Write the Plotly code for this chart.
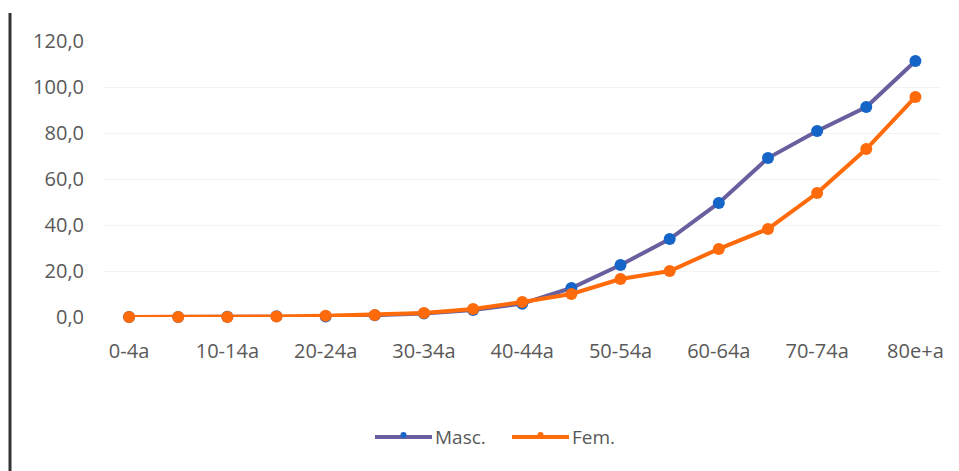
import plotly.graph_objects as go

# Age groups and rates per group
age_groups = ["0-4a", "5-9a", "10-14a", "15-19a", "20-24a", "25-29a", "30-34a",
              "35-39a", "40-44a", "45-49a", "50-54a", "55-59a", "60-64a",
              "65-69a", "70-74a", "75-79a", "80e+a"]
masc = [0.0, 0.0, 0.1, 0.3, 0.2, 0.8, 1.5, 3.0, 5.8, 12.6, 22.6, 33.9, 49.6,
        69.1, 80.9, 91.3, 111.3]
fem = [0.0, 0.0, 0.0, 0.2, 0.5, 0.9, 1.7, 3.5, 6.5, 10.0, 16.5, 20.0, 29.6,
       38.3, 53.9, 73.0, 95.7]
shown_ticks = age_groups[::2]
y_ticks = [0, 20, 40, 60, 80, 100, 120]

FONT = "Open Sans, Noto Sans, sans-serif"
TEXT = "#595959"
MASC_LINE, MASC_DOT = "#68609e", "#1565c8"
FEM_COLOR = "#ff6a0a"

# plot area in pixels (used to place the hand-drawn legend and frame line)
W, H = 959, 471
L, R, T, B = 103, 19, 41, 154
PW, PH = W - L - R, H - T - B


def px(x):
    return (x - L) / PW


def py(y):
    return (H - B - y) / PH


fig = go.Figure()
fig.add_trace(go.Scatter(
    x=age_groups, y=masc, name="Masc.", mode="lines+markers",
    line=dict(color=MASC_LINE, width=4),
    marker=dict(color=MASC_DOT, size=12),
    cliponaxis=False, showlegend=False,
))
fig.add_trace(go.Scatter(
    x=age_groups, y=fem, name="Fem.", mode="lines+markers",
    line=dict(color=FEM_COLOR, width=4),
    marker=dict(color=FEM_COLOR, size=12),
    cliponaxis=False, showlegend=False,
))

# legend: line sample with small dot, then label
legend_items = [("Masc.", MASC_LINE, MASC_DOT, 375), ("Fem.", FEM_COLOR, FEM_COLOR, 512)]
shapes = [dict(type="line", xref="paper", yref="paper",
               x0=px(10), x1=px(10), y0=py(13), y1=py(H + 5),
               line=dict(color="#333333", width=3))]
annotations = []
ly = 437
for label, lc, dc, x0 in legend_items:
    shapes.append(dict(type="line", xref="paper", yref="paper",
                       x0=px(x0), x1=px(x0 + 57), y0=py(ly), y1=py(ly),
                       line=dict(color=lc, width=4)))
    shapes.append(dict(type="circle", xref="paper", yref="paper",
                       x0=px(x0 + 25.5), x1=px(x0 + 31.5),
                       y0=py(ly - 5), y1=py(ly + 1),
                       fillcolor=dc, line=dict(color=dc, width=0)))
    annotations.append(dict(text=label, xref="paper", yref="paper",
                            x=px(x0 + 58), y=py(ly), xanchor="left",
                            yanchor="middle", showarrow=False,
                            font=dict(family=FONT, size=19, color=TEXT)))

fig.update_layout(
    width=W, height=H,
    margin=dict(l=L, r=R, t=T, b=B),
    paper_bgcolor="white", plot_bgcolor="white",
    separators=", ",
    font=dict(family=FONT, size=20, color=TEXT),
    showlegend=False,
    xaxis=dict(
        type="category", range=[-0.53, 16.5],
        tickmode="array", tickvals=shown_ticks, ticktext=shown_ticks,
        showgrid=False, zeroline=False, showline=False,
        ticks="", ticklabelstandoff=20,
    ),
    yaxis=dict(
        range=[0, 120], tickmode="array", tickvals=y_ticks,
        tickformat=".1f", showgrid=True, gridcolor="#f3f3f3", gridwidth=1,
        zeroline=False, showline=False, ticks="", ticklabelstandoff=18,
    ),
    shapes=shapes,
    annotations=annotations,
)

fig.write_html("out.html")
